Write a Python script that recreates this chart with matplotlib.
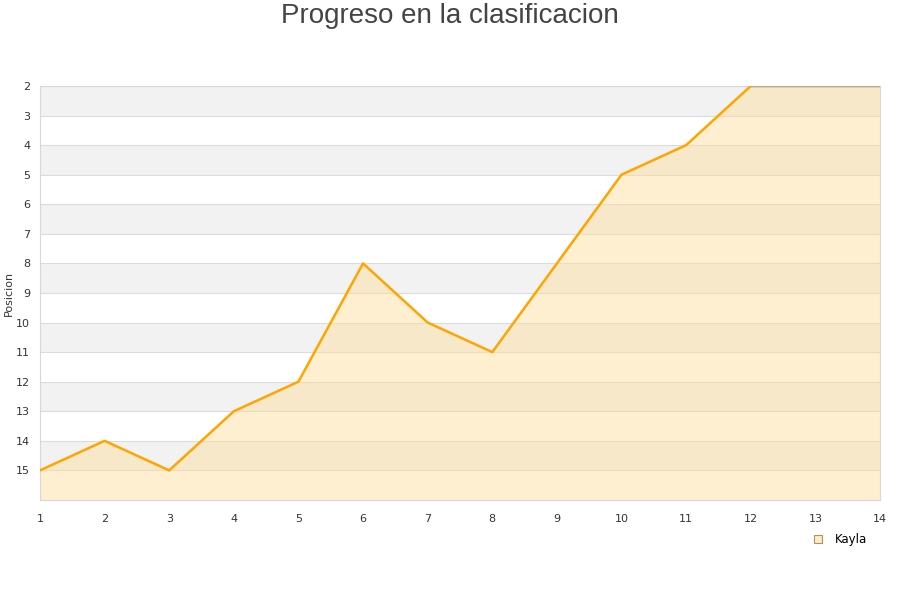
import numpy as np
import matplotlib.pyplot as plt

"""data"""

jornadas = [1, 2, 3, 4, 5, 6, 7, 8, 9, 10, 11, 12, 13, 14]
posicion = [15, 14, 15, 13, 12, 8, 10, 11, 8, 5, 4, 2, 2, 2]
jugador  = 'Kayla'

"""plot"""

fig = plt.figure(figsize=(9, 6), dpi=100)
ax1 = fig.add_axes([0.0444, 0.1667, 0.9334, 0.69])

# alternating bands
for k in range(2, 16):
    if k % 2 == 0:
        ax1.axhspan(k, k + 1, color='#f2f2f2', zorder=0, lw=0)
    ax1.axhline(k, color='#dcdcdc', lw=0.8, zorder=0.5)

ax1.fill_between(jornadas, posicion, 16, color='#ffdd99', alpha=0.45, lw=0, zorder=1)
ax1.plot(jornadas, posicion, color='#ffa500', lw=1.8, zorder=3)
ax1.plot(jornadas[11:], posicion[11:], color='#aaaaaa', lw=1, zorder=4)

ax1.plot([], [], ls='none', marker='s', ms=6, mfc='#ffebc8', mec='#b09060', mew=0.8, label=jugador)

"""detail"""

ax1.set_xlim(1, 14)
ax1.set_xticks(jornadas)
ax1.set_ylim(16, 2)
ax1.set_yticks(np.arange(2, 16))
ax1.tick_params(length=0, labelsize=8, colors='#333333', pad=7)
ax1.tick_params(axis='x', pad=10)
for s in ax1.spines.values():
    s.set_color('#d8d8d8')
ax1.set_ylabel('Posicion', fontsize=8, color='#333333')
ax1.yaxis.set_label_coords(-0.031, 0.5)

fig.suptitle('Progreso en la clasificacion', fontsize=20, color='#444444',
             family='Liberation Sans', y=0.995)

ax1.legend(loc='upper left', bbox_to_anchor=(0.907, -0.055), frameon=False,
           fontsize=8.5, handletextpad=0.9, handlelength=1)

"""save"""

fig.savefig('out.png', dpi=100)
